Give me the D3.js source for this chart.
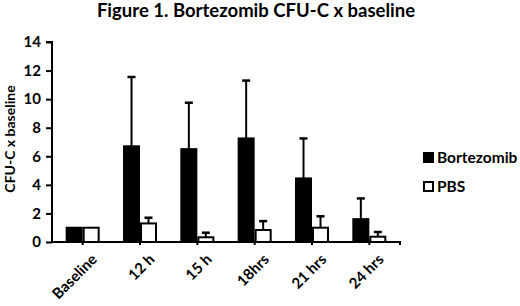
<!DOCTYPE html>
<html>
<head>
<meta charset="utf-8">
<script src="https://cdn.jsdelivr.net/npm/d3@7"></script>
<style>
  body { margin: 0; background: #fff; }
  text { font-family: Lato, "Open Sans", sans-serif; font-weight: bold; fill: #000; }
</style>
</head>
<body>
<div id="chart"></div>
<script>
let width = 520,
    height = 306,
    margin = ({ top: 42, right: 122, bottom: 64, left: 52 });

const categories = ["Baseline", "12 h", "15 h", "18hrs", "21 hrs", "24 hrs"];
const seriesNames = ["Bortezomib", "PBS"];
const bortezomib = [1, 6.7, 6.5, 7.25, 4.45, 1.6];
const bortezomibErr = [0, 4.85, 3.25, 4.05, 2.8, 1.45];
const pbs = [1, 1.3, 0.33, 0.84, 1.0, 0.37];
const pbsErr = [0, 0.4, 0.32, 0.62, 0.8, 0.33];
const yTicks = [0, 2, 4, 6, 8, 10, 12, 14];

const svg = d3.select("#chart")
  .append("svg")
  .attr("width", width)
  .attr("height", height);

let x = d3.scaleBand()
  .domain(categories)
  .range([margin.left + 2, width - margin.right - 0]);

let sub = d3.scaleBand()
  .domain(seriesNames)
  .range([-17, 17]);

let y = d3.scaleLinear()
  .domain([0, 14])
  .range([height - margin.bottom, margin.top]);

// title
svg.append("text")
  .attr("x", 256)
  .attr("y", 17)
  .attr("text-anchor", "middle")
  .style("font-size", "18.5px")
  .text("Figure 1. Bortezomib CFU-C x baseline");

// y axis
let yAxis = svg.append("g")
  .attr("transform", `translate(${margin.left},0)`)
  .call(d3.axisLeft(y).tickValues(yTicks).tickSize(6).tickPadding(5));
yAxis.select(".domain").attr("stroke", "#000").attr("stroke-width", 2)
  .attr("d", `M-6,${y(14)}H0V${y(0)}`);
yAxis.selectAll(".tick line").attr("stroke", "#000").attr("stroke-width", 2);
yAxis.selectAll(".tick text").style("font-size", "15px").style("font-family", "Lato, sans-serif");

svg.append("text")
  .attr("transform", `translate(15,${(y(0) + y(14)) / 2 - 3}) rotate(-90)`)
  .attr("text-anchor", "middle")
  .style("font-size", "14px")
  .text("CFU-C x baseline");

let data = categories.map((c, i) => ({
  cat: c,
  vals: [
    { name: "Bortezomib", v: bortezomib[i], e: bortezomibErr[i] },
    { name: "PBS", v: pbs[i], e: pbsErr[i] }
  ]
}));

let groups = svg.selectAll(".grp")
  .data(data)
  .join("g")
  .attr("class", "grp")
  .attr("transform", d => `translate(${x(d.cat) + x.bandwidth() / 2},0)`);

// error bars (upper only)
groups.selectAll(".err")
  .data(d => d.vals.filter(v => v.e > 0))
  .join("g")
  .attr("class", "err")
  .each(function (d) {
    let g = d3.select(this);
    let cx = sub(d.name) + sub.bandwidth() / 2;
    g.append("line")
      .attr("x1", cx).attr("x2", cx)
      .attr("y1", y(d.v)).attr("y2", y(d.v + d.e))
      .attr("stroke", "#000").attr("stroke-width", 2);
    g.append("line")
      .attr("x1", cx - 4).attr("x2", cx + 4)
      .attr("y1", y(d.v + d.e)).attr("y2", y(d.v + d.e))
      .attr("stroke", "#000").attr("stroke-width", 2.5);
  });

groups.selectAll("rect")
  .data(d => d.vals)
  .join("rect")
  .attr("x", d => sub(d.name) + 1)
  .attr("width", sub.bandwidth() - 2)
  .attr("y", d => y(d.v))
  .attr("height", d => y(0) - y(d.v))
  .attr("fill", d => d.name === "PBS" ? "#fff" : "#000")
  .attr("stroke", "#000")
  .attr("stroke-width", 2);

// x axis
let xAxis = svg.append("g")
  .attr("transform", `translate(0,${y(0)})`)
  .call(d3.axisBottom(x).tickSize(3).tickPadding(10));
xAxis.select(".domain").attr("stroke", "#000").attr("stroke-width", 2)
  .attr("d", `M${margin.left},0H${width - margin.right + 2}V3`);
xAxis.selectAll(".tick line").attr("stroke", "#000").attr("stroke-width", 2);
xAxis.selectAll(".tick text")
  .style("font-size", "15px")
  .style("font-family", "Lato, sans-serif")
  .attr("text-anchor", "end")
  .attr("dy", "0.3em")
  .attr("transform", "translate(3,6) rotate(-45)");

// legend
let legend = svg.selectAll(".legend")
  .data(seriesNames)
  .join("g")
  .attr("class", "legend")
  .attr("transform", (d, i) => `translate(423,${152 + i * 29})`);

legend.append("rect")
  .attr("x", 1).attr("y", 1)
  .attr("width", 9).attr("height", 9)
  .attr("fill", d => d === "PBS" ? "#fff" : "#000")
  .attr("stroke", "#000")
  .attr("stroke-width", 2);

legend.append("text")
  .attr("x", 14)
  .attr("y", 10.5)
  .style("font-size", "15.5px")
  .text(d => d);
</script>
</body>
</html>
